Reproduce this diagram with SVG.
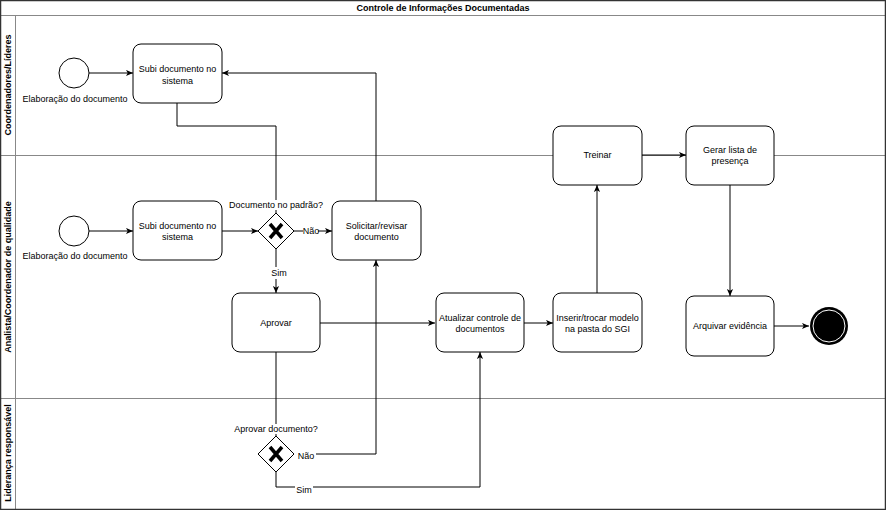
<svg xmlns="http://www.w3.org/2000/svg" width="886" height="510" viewBox="0 0 886 510">
<style>
text{font-family:"Liberation Sans",Arial,sans-serif;font-size:9px;fill:#000}
.t{text-anchor:middle}
.b{font-weight:bold}
.task{fill:#fff;stroke:#000;stroke-width:1}
.ln{fill:none;stroke:#000;stroke-width:1}
.lane{fill:none;stroke:#888;stroke-width:1}
.gw{fill:#fff;stroke:#000;stroke-width:1}
.x{stroke:#000;stroke-width:3.5;fill:none}
.bg{fill:#fff}
</style>
<defs>
<marker id="a" viewBox="0 0 8 8" refX="8" refY="4" markerWidth="7" markerHeight="7" markerUnits="userSpaceOnUse" orient="auto">
<path d="M0,0.5 L8,4 L0,7.5 L2,4 Z" fill="#000"/>
</marker>
</defs>
<rect x="0" y="0" width="886" height="510" fill="#fff"/>
<g id="pool">
<line class="lane" x1="0" y1="15.5" x2="886" y2="15.5"/>
<line class="lane" x1="15.5" y1="15.5" x2="15.5" y2="510"/>
<line class="lane" x1="0" y1="155.5" x2="886" y2="155.5"/>
<line class="lane" x1="0" y1="398.5" x2="886" y2="398.5"/>
<rect x="0.5" y="0.5" width="885" height="509" fill="none" stroke="#333" stroke-width="1.5"/>
<text class="t b" x="443" y="11">Controle de Informações Documentadas</text>
<text class="t b" transform="translate(11,85) rotate(-90)">Coordenadores/Líderes</text>
<text class="t b" transform="translate(11,277) rotate(-90)">Analista/Coordenador de qualidade</text>
<text class="t b" transform="translate(11,453) rotate(-90)">Liderança responsável</text>
</g>
<g id="connectors">
<path class="ln" d="M89,73 H133" marker-end="url(#a)"/>
<path class="ln" d="M376,201 V73 H222" marker-end="url(#a)"/>
<path class="ln" d="M177,103 V126 H276 V213"/>
<path class="ln" d="M89,231 H133" marker-end="url(#a)"/>
<path class="ln" d="M222,231 H258" marker-end="url(#a)"/>
<path class="ln" d="M294,231 H303 M318,231 H332" marker-end="url(#a)"/>
<path class="ln" d="M276,249 V267 M276,279 V293" marker-end="url(#a)"/>
<path class="ln" d="M320,323 H435" marker-end="url(#a)"/>
<path class="ln" d="M524,323 H553" marker-end="url(#a)"/>
<path class="ln" d="M597,293 V185" marker-end="url(#a)"/>
<path class="ln" d="M642,155 H686" marker-end="url(#a)"/>
<path class="ln" d="M730,185 V296" marker-end="url(#a)"/>
<path class="ln" d="M774,326 H809" marker-end="url(#a)"/>
<path class="ln" d="M276,352 V436"/>
<path class="ln" d="M316,454 H376 V260" marker-end="url(#a)"/>
<path class="ln" d="M276,472 V487 H295 M313,487 H480 V352" marker-end="url(#a)"/>
<text class="t" x="311" y="234">Não</text>
<text class="t" x="279" y="276">Sim</text>
<text class="t" x="306" y="459">Não</text>
<text class="t" x="304" y="493">Sim</text>
</g>
<g id="start1">
<circle cx="74" cy="73" r="15" fill="#fff" stroke="#000"/>
<text class="t" x="75" y="102">Elaboração do documento</text>
</g>
<g id="task_subi1">
<rect class="task" x="133" y="44" width="89" height="59" rx="8"/>
<text class="t" x="177.5" y="72">Subi documento no</text>
<text class="t" x="177.5" y="84">sistema</text>
</g>
<g id="start2">
<circle cx="74" cy="231" r="15" fill="#fff" stroke="#000"/>
<text class="t" x="75" y="259">Elaboração do documento</text>
</g>
<g id="task_subi2">
<rect class="task" x="133" y="201" width="89" height="59" rx="8"/>
<text class="t" x="177.5" y="229">Subi documento no</text>
<text class="t" x="177.5" y="240">sistema</text>
</g>
<g id="gw1">
<path class="gw" d="M276,213 L294,231 L276,249 L258,231 Z"/>
<path class="x" d="M270,224 L282,238 M282,224 L270,238"/>
<rect class="bg" x="230" y="200" width="92" height="10"/>
<text class="t" x="276" y="208">Documento no padrão?</text>
</g>
<g id="task_solicitar">
<rect class="task" x="332" y="201" width="89" height="59" rx="8"/>
<text class="t" x="376.5" y="229">Solicitar/revisar</text>
<text class="t" x="376.5" y="240">documento</text>
</g>
<g id="task_aprovar">
<rect class="task" x="232" y="293" width="88" height="59" rx="8"/>
<text class="t" x="276" y="326">Aprovar</text>
</g>
<g id="task_atualizar">
<rect class="task" x="436" y="293" width="88" height="59" rx="8"/>
<text class="t" x="480" y="321">Atualizar controle de</text>
<text class="t" x="480" y="332">documentos</text>
</g>
<g id="task_inserir">
<rect class="task" x="553" y="293" width="89" height="59" rx="8"/>
<text class="t" x="597.5" y="321">Inserir/trocar modelo</text>
<text class="t" x="597.5" y="332">na pasta do SGI</text>
</g>
<g id="task_treinar">
<rect class="task" x="553" y="126" width="89" height="59" rx="8"/>
<text class="t" x="597.5" y="158">Treinar</text>
</g>
<g id="task_gerar">
<rect class="task" x="686" y="126" width="88" height="59" rx="8"/>
<text class="t" x="730" y="153">Gerar lista de</text>
<text class="t" x="730" y="164">presença</text>
</g>
<g id="task_arquivar">
<rect class="task" x="686" y="296" width="88" height="60" rx="8"/>
<text class="t" x="730" y="329">Arquivar evidência</text>
</g>
<g id="end">
<circle cx="829" cy="326" r="19" fill="#000"/>
<circle cx="829" cy="326" r="16" fill="none" stroke="#fff" stroke-width="1"/>
</g>
<g id="gw2">
<path class="gw" d="M276,436 L294,454 L276,472 L258,454 Z"/>
<path class="x" d="M270,447 L282,461 M282,447 L270,461"/>
<rect class="bg" x="236" y="424" width="80" height="10"/>
<text class="t" x="276" y="432">Aprovar documento?</text>
</g>
</svg>
